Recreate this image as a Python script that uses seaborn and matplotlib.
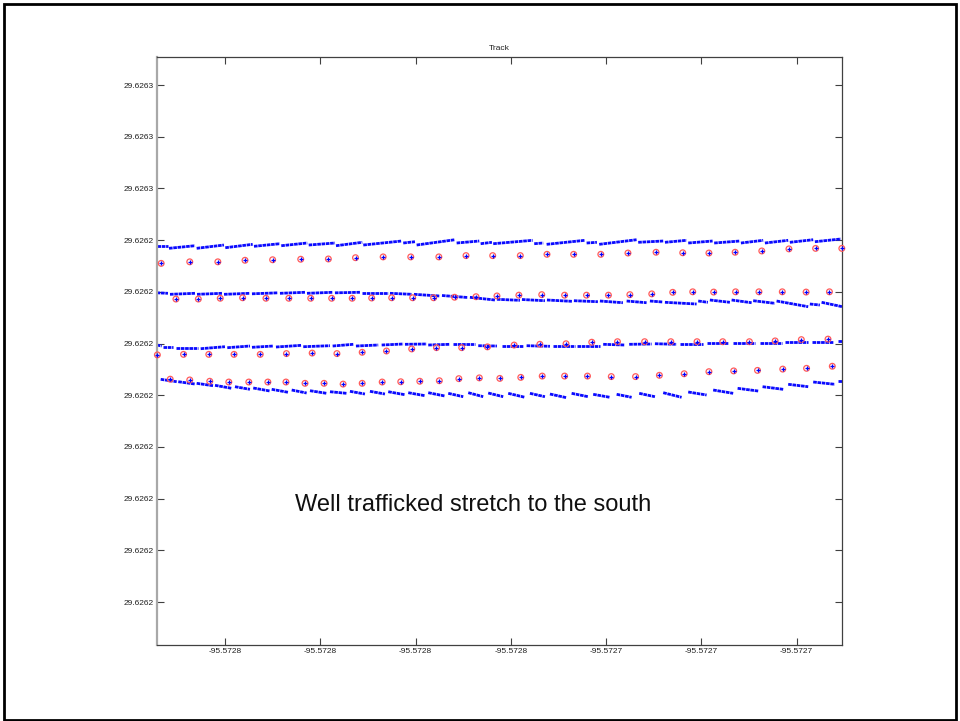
import numpy as np
import pandas as pd
import matplotlib
matplotlib.use("Agg")
import matplotlib.pyplot as plt
from matplotlib.patches import Rectangle
from matplotlib.ticker import FixedLocator, FormatStrFormatter
import seaborn as sns

# Reference point of the surveyed stretch; all positions below are offsets
# from it in micro-degrees (1e-6 deg).
LAT0 = 29.62624
LON0 = -95.57275

# Circled GPS fixes, one list per pass
pass1_lon = [-8.34, -7.74, -7.15, -6.58, -6.00, -5.41, -4.83, -4.26, -3.68, -3.10,
             -2.51, -1.94, -1.38, -0.80, -0.24, 0.32, 0.89, 1.46, 2.05, 2.61,
             3.16, 3.71, 4.27, 4.84, 5.40, 5.95]
pass1_lat = [8.10, 8.16, 8.16, 8.22, 8.24, 8.26, 8.27, 8.32, 8.35, 8.35,
             8.35, 8.40, 8.40, 8.40, 8.45, 8.45, 8.45, 8.50, 8.53, 8.51,
             8.50, 8.53, 8.58, 8.66, 8.68, 8.68]

pass2_lon = [-8.03, -7.56, -7.10, -6.63, -6.14, -5.66, -5.20, -4.76, -4.33, -3.92,
             -3.50, -3.06, -2.62, -2.18, -1.73, -1.29, -0.83, -0.35, 0.13, 0.59,
             1.05, 1.50, 1.96, 2.40, 2.82, 3.26, 3.72, 4.21, 4.70, 5.20, 5.69]
pass2_lat = [6.72, 6.72, 6.75, 6.77, 6.75, 6.75, 6.75, 6.75, 6.75, 6.76,
             6.77, 6.77, 6.77, 6.79, 6.81, 6.84, 6.87, 6.89, 6.87, 6.87,
             6.87, 6.89, 6.92, 6.98, 7.00, 6.99, 7.00, 7.00, 7.00, 6.99, 7.00]

pass3_lon = [-8.42, -7.87, -7.34, -6.81, -6.26, -5.71, -5.17, -4.65, -4.12, -3.61,
             -3.08, -2.56, -2.03, -1.49, -0.93, -0.39, 0.16, 0.70, 1.24, 1.81,
             2.36, 2.91, 3.45, 4.01, 4.55, 5.10, 5.66]
pass3_lat = [4.56, 4.58, 4.58, 4.58, 4.58, 4.61, 4.63, 4.61, 4.66, 4.71,
             4.79, 4.84, 4.84, 4.87, 4.94, 4.97, 4.99, 5.05, 5.07, 5.07,
             5.07, 5.07, 5.07, 5.07, 5.10, 5.15, 5.17]

pass4_lon = [-8.15, -7.74, -7.32, -6.92, -6.50, -6.10, -5.72, -5.32, -4.92, -4.52,
             -4.12, -3.70, -3.31, -2.91, -2.50, -2.09, -1.66, -1.23, -0.79, -0.34,
             0.13, 0.61, 1.11, 1.62, 2.12, 2.64, 3.16, 3.68, 4.18, 4.71, 5.21, 5.75]
pass4_lat = [3.62, 3.59, 3.54, 3.51, 3.51, 3.51, 3.51, 3.46, 3.46, 3.43,
             3.46, 3.51, 3.52, 3.54, 3.56, 3.64, 3.67, 3.65, 3.69, 3.74,
             3.74, 3.74, 3.72, 3.72, 3.77, 3.83, 3.91, 3.94, 3.96, 4.01, 4.04, 4.12]

# Logged track runs: (lon start, lat start, lon end, lat end)
track1 = [(-8.434, 8.783, -8.191, 8.783), (-8.176, 8.683, -7.630, 8.783),
          (-7.595, 8.683, -7.022, 8.810), (-6.994, 8.706, -6.419, 8.837),
          (-6.392, 8.760, -5.846, 8.861), (-5.819, 8.783, -5.273, 8.888),
          (-5.243, 8.810, -4.691, 8.888), (-4.670, 8.783, -4.118, 8.915),
          (-4.097, 8.810, -3.291, 8.965), (-3.258, 8.888, -3.012, 8.938),
          (-2.977, 8.810, -2.173, 9.015), (-2.137, 8.888, -1.662, 8.965),
          (-1.633, 8.861, -1.396, 8.915), (-1.369, 8.861, -0.542, 8.992),
          (-0.508, 8.861, -0.319, 8.888), (-0.248, 8.837, 0.556, 8.992),
          (0.592, 8.888, 0.808, 8.915), (0.856, 8.837, 1.641, 9.015),
          (1.675, 8.915, 2.200, 8.965), (2.236, 8.915, 2.691, 8.992),
          (2.725, 8.888, 3.237, 8.965), (3.270, 8.888, 3.810, 8.965),
          (3.831, 8.888, 4.299, 8.992), (4.335, 8.888, 4.824, 8.992),
          (4.859, 8.915, 5.349, 9.015), (5.384, 8.938, 5.930, 9.043)]

track2 = [(-8.434, 6.961, -8.197, 6.942), (-8.155, 6.903, -7.630, 6.942),
          (-7.588, 6.903, -7.064, 6.942), (-7.021, 6.903, -6.476, 6.942),
          (-6.434, 6.923, -5.888, 6.961), (-5.846, 6.942, -5.321, 6.981),
          (-5.279, 6.942, -4.733, 6.981), (-4.692, 6.961, -4.167, 6.981),
          (-4.125, 6.961, -3.579, 6.961), (-3.537, 6.942, -3.075, 6.903),
          (-3.033, 6.903, -2.487, 6.837), (-2.445, 6.857, -1.900, 6.779),
          (-1.858, 6.787, -1.333, 6.683), (-1.291, 6.710, -0.808, 6.671),
          (-0.766, 6.702, -0.283, 6.656), (-0.241, 6.683, 0.283, 6.632),
          (0.325, 6.656, 0.829, 6.617), (0.871, 6.644, 1.354, 6.578),
          (1.432, 6.644, 1.851, 6.578), (1.921, 6.644, 2.194, 6.605),
          (2.236, 6.594, 2.901, 6.528), (2.935, 6.644, 3.138, 6.594),
          (3.180, 6.683, 3.600, 6.594), (3.636, 6.683, 4.056, 6.578),
          (4.089, 6.656, 4.545, 6.555), (4.580, 6.644, 5.244, 6.424),
          (5.279, 6.528, 5.489, 6.489), (5.525, 6.594, 5.960, 6.424)]

track3 = [(-8.434, 4.942, -8.329, 4.903), (-8.296, 4.876, -8.086, 4.876),
          (-8.029, 4.838, -7.561, 4.838), (-7.511, 4.799, -7.001, 4.876),
          (-6.952, 4.838, -6.476, 4.903), (-6.434, 4.853, -5.987, 4.903),
          (-5.930, 4.865, -5.391, 4.930), (-5.357, 4.876, -4.796, 4.915),
          (-4.740, 4.903, -4.307, 4.969), (-4.251, 4.903, -3.783, 4.942),
          (-3.711, 4.942, -3.258, 4.981), (-3.222, 4.969, -2.767, 4.981),
          (-2.733, 4.942, -2.278, 4.969), (-2.208, 4.969, -1.753, 4.969),
          (-1.683, 4.915, -1.291, 4.903), (-1.192, 4.915, -0.739, 4.915),
          (-0.668, 4.915, -0.178, 4.892), (-0.122, 4.892, 0.346, 4.892),
          (0.395, 4.915, 0.871, 4.915), (0.940, 4.969, 1.396, 4.942),
          (1.486, 4.969, 1.956, 4.981), (2.026, 4.992, 2.481, 4.969),
          (2.550, 4.981, 3.040, 4.981), (3.111, 5.008, 3.564, 5.008),
          (3.669, 5.031, 4.125, 5.031), (4.230, 5.031, 4.685, 5.031),
          (4.754, 5.046, 5.244, 5.046), (5.315, 5.070, 5.768, 5.070),
          (5.873, 5.097, 5.960, 5.097)]

track4 = [(-8.350, 3.615, -8.014, 3.522), (-7.981, 3.522, -7.630, 3.433),
          (-7.595, 3.460, -7.246, 3.367), (-7.210, 3.383, -6.860, 3.267),
          (-6.791, 3.329, -6.476, 3.228), (-6.407, 3.279, -6.056, 3.162),
          (-6.020, 3.228, -5.672, 3.112), (-5.600, 3.201, -5.286, 3.085),
          (-5.216, 3.174, -4.866, 3.073), (-4.796, 3.135, -4.446, 3.073),
          (-4.377, 3.151, -4.062, 3.046), (-3.957, 3.151, -3.642, 3.046),
          (-3.573, 3.135, -3.222, 3.019), (-3.153, 3.097, -2.802, 2.981),
          (-2.733, 3.097, -2.383, 2.969), (-2.313, 3.073, -1.998, 2.942),
          (-1.893, 3.097, -1.579, 2.942), (-1.474, 3.085, -1.159, 2.942),
          (-1.054, 3.073, -0.703, 2.919), (-0.598, 3.073, -0.283, 2.942),
          (-0.178, 3.046, 0.172, 2.903), (0.277, 3.073, 0.626, 2.942),
          (0.730, 3.035, 1.081, 2.919), (1.222, 3.035, 1.537, 2.919),
          (1.696, 3.073, 2.026, 2.942), (2.200, 3.097, 2.586, 2.919),
          (2.725, 3.124, 3.111, 3.008), (3.249, 3.201, 3.669, 3.073),
          (3.762, 3.267, 4.194, 3.162), (4.286, 3.329, 4.719, 3.228),
          (4.824, 3.422, 5.244, 3.329), (5.349, 3.511, 5.804, 3.422),
          (5.873, 3.561, 5.960, 3.561)]

x_ticks_ud = [-7, -5, -3, -1, 1, 3, 5]
y_ticks_ud = [15, 13, 11, 9, 7, 5, 3, 1, -1, -3, -5]
x_limits_ud = (-8.434, 5.96)
y_limits_ud = (-6.663, 16.072)

title_text = "Track"
note_text = "Well trafficked stretch to the south"


def to_lon(v):
    return LON0 + np.asarray(v, dtype=float) * 1e-6


def to_lat(v):
    return LAT0 + np.asarray(v, dtype=float) * 1e-6


# Long-form table of track runs for seaborn (one unit per run)
rows = []
for t_id, track in enumerate([track1, track2, track3, track4]):
    for s_id, (lo0, la0, lo1, la1) in enumerate(track):
        key = f"{t_id}-{s_id}"
        rows.append((key, to_lon(lo0), to_lat(la0)))
        rows.append((key, to_lon(lo1), to_lat(la1)))
runs = pd.DataFrame(rows, columns=["run", "lon", "lat"])

fixes = pd.DataFrame({
    "lon": to_lon(pass1_lon + pass2_lon + pass3_lon + pass4_lon),
    "lat": to_lat(pass1_lat + pass2_lat + pass3_lat + pass4_lat),
})

sns.set_style("white")
plt.rcParams["font.family"] = ["Liberation Sans", "DejaVu Sans"]

W, H = 960, 721
fig = plt.figure(figsize=(W / 100, H / 100), dpi=100)
ax = fig.add_axes([156.7 / W, 1 - 645 / H, (842.3 - 156.7) / W, (645 - 57.3) / H])

sns.lineplot(data=runs, x="lon", y="lat", units="run", estimator=None, sort=False,
             color="#0a0aff", linewidth=2.0, linestyle=(0, (1.3, 0.25)),
             ax=ax, legend=False)
sns.scatterplot(data=fixes, x="lon", y="lat", marker="o", s=17,
                facecolors="none", edgecolor="#ff5a5a", linewidth=0.9,
                ax=ax, legend=False, clip_on=False, zorder=3)
sns.scatterplot(data=fixes, x="lon", y="lat", marker="+", s=9,
                color="#0000ff", linewidth=0.9, ax=ax, legend=False,
                clip_on=False, zorder=4)

ax.set_xlim(to_lon(x_limits_ud[0]), to_lon(x_limits_ud[1]))
ax.set_ylim(to_lat(y_limits_ud[0]), to_lat(y_limits_ud[1]))
ax.xaxis.set_major_locator(FixedLocator(to_lon(x_ticks_ud)))
ax.yaxis.set_major_locator(FixedLocator(to_lat(y_ticks_ud)))
ax.xaxis.set_major_formatter(FormatStrFormatter("%.4f"))
ax.yaxis.set_major_formatter(FormatStrFormatter("%.4f"))
ax.tick_params(direction="in", length=5, width=0.8, color="#404040",
               labelsize=6, labelcolor="#202020", pad=2.5,
               top=True, right=True, bottom=True, left=True)
ax.set_xlabel("")
ax.set_ylabel("")
ax.set_title(title_text, fontsize=6, color="#202020", pad=5)

for side in ["top", "right", "bottom"]:
    ax.spines[side].set_color("#404040")
    ax.spines[side].set_linewidth(0.9)
ax.spines["left"].set_color("#a8a8a8")
ax.spines["left"].set_linewidth(1.6)

fig.text(473 / W, 1 - 505 / H, note_text, ha="center", va="center",
         fontsize=17, color="#101010")

# Slide frame
fig.add_artist(Rectangle((4 / W, 1 / H), 952 / W, 716 / H, transform=fig.transFigure,
                         fill=False, edgecolor="black", linewidth=2.0))

fig.savefig("out.png", dpi=100)
